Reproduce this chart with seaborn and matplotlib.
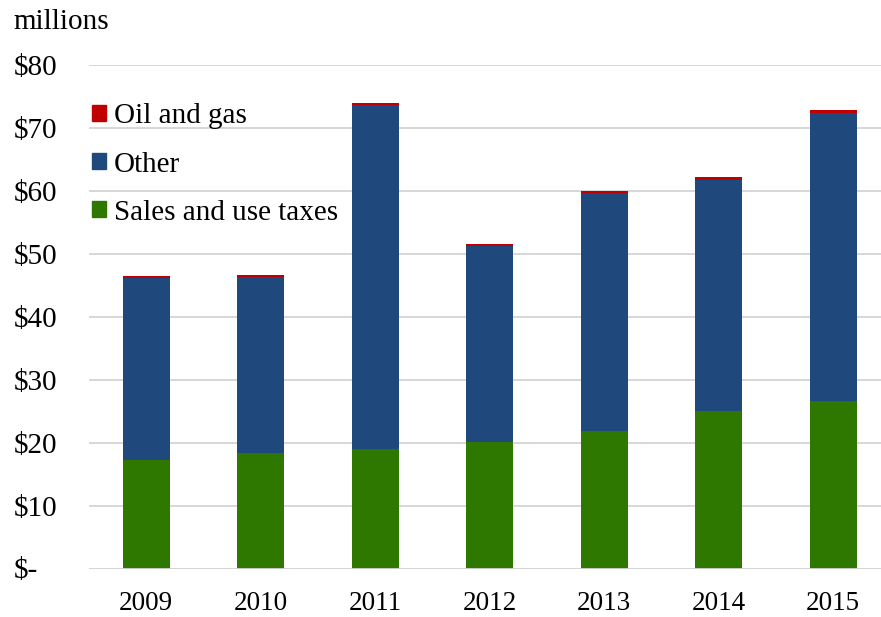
import matplotlib
matplotlib.use("Agg")
import matplotlib.pyplot as plt
from matplotlib.patches import Patch
import seaborn as sns
import pandas as pd

years = ["2009", "2010", "2011", "2012", "2013", "2014", "2015"]
sales_use = [17.2, 18.4, 19.0, 20.1, 21.9, 25.0, 26.6]
other = [29.0, 27.9, 54.7, 31.1, 37.8, 36.7, 45.7]
oil_gas = [0.3, 0.3, 0.3, 0.3, 0.3, 0.5, 0.5]
y_ticks = [0, 10, 20, 30, 40, 50, 60, 70, 80]
y_labels = ["$-", "$10", "$20", "$30", "$40", "$50", "$60", "$70", "$80"]

c_oil = "#C00000"
c_other = "#1F497D"
c_sales = "#2E7800"

sns.set_theme(style="white")
plt.rcParams["font.family"] = ["Liberation Serif", "DejaVu Serif"]
plt.rcParams["text.color"] = "black"

df = pd.DataFrame({"year": years, "sales": sales_use, "other": other, "oil": oil_gas})
df["lvl_other"] = df["sales"] + df["other"]
df["lvl_oil"] = df["lvl_other"] + df["oil"]

fig = plt.figure(figsize=(8.81, 6.17), dpi=100)
ax = fig.add_axes([89 / 881, 1 - 568.5 / 617, 792 / 881, (568.5 - 65) / 617])

# stacked columns: draw cumulative levels from the top layer down
width = 0.41
sns.barplot(data=df, x="year", y="lvl_oil", color=c_oil, width=width,
            saturation=1, linewidth=0, ax=ax, zorder=3)
sns.barplot(data=df, x="year", y="lvl_other", color=c_other, width=width,
            saturation=1, linewidth=0, ax=ax, zorder=3)
sns.barplot(data=df, x="year", y="sales", color=c_sales, width=width,
            saturation=1, linewidth=0, ax=ax, zorder=3)

ax.set_ylim(0, 80)
ax.set_xlim(-0.5, -0.5 + 792 / 114.5)
ax.set_yticks(y_ticks)
ax.set_yticklabels(y_labels)
ax.set_xlabel("")
ax.set_ylabel("")
ax.yaxis.grid(True, color="#d4d4d4", linewidth=1.3, zorder=0)
ax.set_axisbelow(True)
for s in ax.spines.values():
    s.set_visible(False)
ax.axhline(0, color="#d4d4d4", linewidth=1.3, zorder=4)

ax.tick_params(axis="y", length=0, pad=54, labelsize=21, labelcolor="black")
ax.tick_params(axis="x", length=0, pad=16, labelsize=19.5, labelcolor="black")
for t in ax.get_yticklabels():
    t.set_horizontalalignment("left")

fig.text(13 / 881, 1 - 22 / 617, "millions", fontsize=21, va="center", ha="left",
         color="black")

handles = [Patch(color=c_oil, label="Oil and gas"),
           Patch(color=c_other, label="Other"),
           Patch(color=c_sales, label="Sales and use taxes")]
leg = ax.legend(handles=handles, loc="upper left", bbox_to_anchor=(-0.011, 0.947),
                frameon=False, fontsize=21, handlelength=0.48, handleheight=0.48,
                handletextpad=0.26, labelspacing=0.76, borderaxespad=0)
for t in leg.get_texts():
    t.set_color("black")

fig.savefig("out.png", dpi=100)
